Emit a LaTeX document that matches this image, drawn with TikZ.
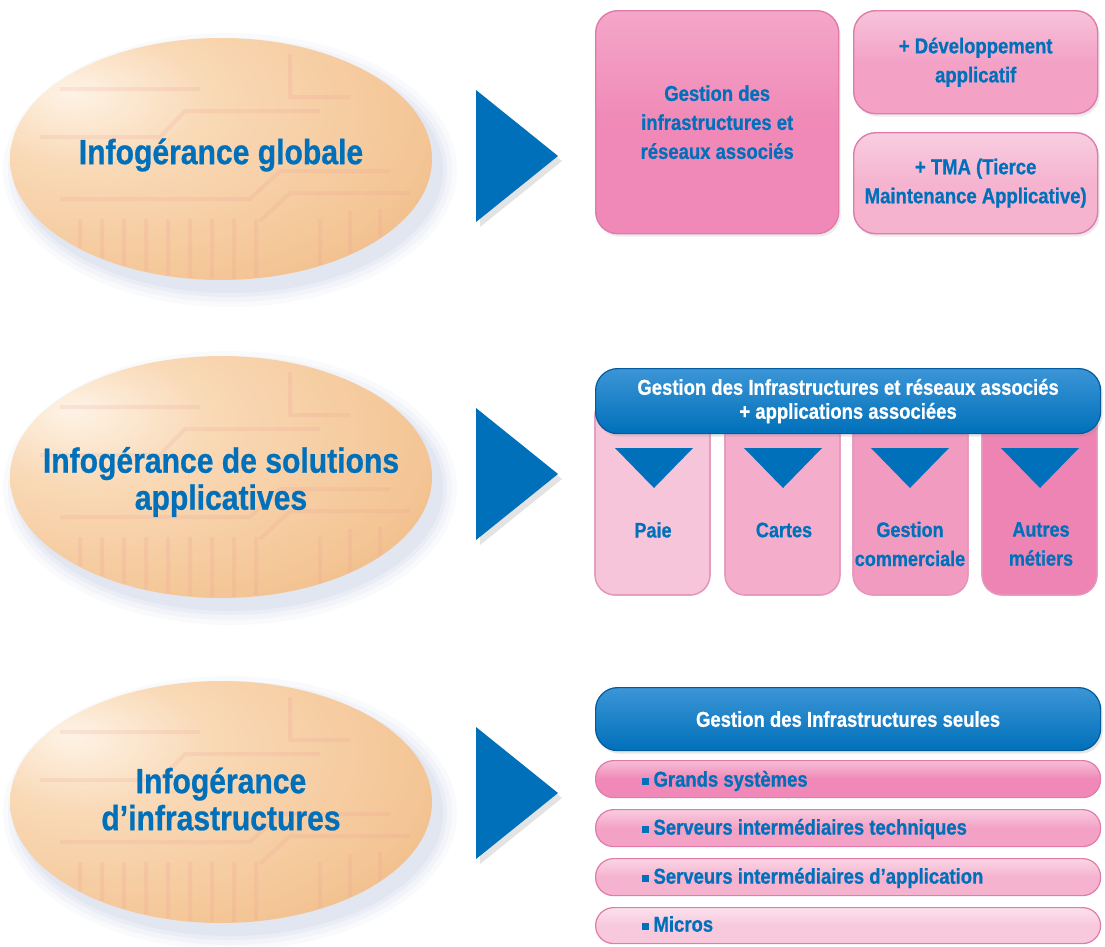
\documentclass[tikz,border=0pt]{standalone}
\usepackage{fontspec}
\setmainfont[FakeStretch=0.86,BoldFeatures={FakeBold=0.7}]{Liberation Sans}
\usetikzlibrary{shapes.geometric,shadows}
\definecolor{bl}{HTML}{0070BA}
\definecolor{bltop}{HTML}{3C95D6}
\definecolor{bledge}{HTML}{005C9E}
\definecolor{eggA}{HTML}{FEF3E6}
\definecolor{eggB}{HTML}{F9D9B6}
\definecolor{eggC}{HTML}{F4C595}
\definecolor{eggD}{HTML}{E8AE76}
\definecolor{haloc}{HTML}{A9B8D8}
\definecolor{pkedge}{HTML}{E07BAA}
\definecolor{pkA}{HTML}{F089B7}
\definecolor{pkB}{HTML}{F3A2C6}
\definecolor{pkC}{HTML}{F5B3D0}
\definecolor{pkD}{HTML}{F8C8DD}
\definecolor{colA}{HTML}{F7C5DA}
\definecolor{colB}{HTML}{F4AECB}
\definecolor{colC}{HTML}{F29BC1}
\definecolor{colD}{HTML}{EE84B4}
\definecolor{circ}{HTML}{EE9C96}
\pgfdeclareradialshading{egg}{\pgfpoint{-18bp}{14bp}}{color(0bp)=(eggA);color(14bp)=(eggB);color(36bp)=(eggC);color(50bp)=(eggD);color(100bp)=(eggD)}
\begin{document}
\begin{tikzpicture}[x=1pt,y=-1pt,
  egg/.style={ellipse, minimum width=422pt, minimum height=242pt, inner sep=0pt, shading=egg},
  eggtxt/.style={text=bl, font=\fontsize{35}{37}\selectfont\bfseries, align=center},
  pbox/.style={draw=pkedge, line width=1.4pt, rounded corners=22pt, anchor=north west, inner sep=0pt,
    text=bl, font=\fontsize{21.5}{29}\selectfont\bfseries, align=center},
  hdr/.style={draw=bledge, line width=1.2pt, rounded corners=22pt, anchor=north west, inner sep=0pt,
    top color=bltop, middle color=bl, bottom color=bl, text=white, align=center,
    drop shadow={opacity=0.2, shadow xshift=2pt, shadow yshift=-3pt}},
  col/.style={draw=pkedge!80, line width=1.2pt, rounded corners=20pt},
  coltxt/.style={text=bl, font=\fontsize{21}{29}\selectfont\bfseries, align=center},
  bar/.style={draw=pkedge, line width=1.2pt, rounded corners=18pt, anchor=north west, inner sep=0pt,
    minimum width=505pt, minimum height=37pt},
  bartxt/.style={text=bl, font=\fontsize{21.5}{24}\selectfont\bfseries, anchor=west},
  arr/.style={fill=bl, drop shadow={opacity=0.22, shadow xshift=4pt, shadow yshift=-5pt}},
  dtri/.style={fill=bl}
]
\useasboundingbox (0,0) rectangle (1105,946);
\fill[white] (0,0) rectangle (1105,946);

% ---------- ellipses ----------
\foreach \cy in {159,477,802}{
  \foreach \g/\o in {16/0.06,11/0.08,6/0.10,2/0.12}{
    \fill[haloc, opacity=\o] (230,\cy+11) ellipse [x radius=211pt+\g pt, y radius=121pt+\g pt];
  }
}
\node[egg] (e1) at (221,159) {};
\node[egg] (e2) at (221,477) {};
\node[egg] (e3) at (221,802) {};
% faint circuit traces
\foreach \cy in {159,477,802}{
  \begin{scope}
    \clip (221,\cy) ellipse [x radius=210pt, y radius=120pt];
    \draw[circ, opacity=0.18, line width=4pt]
      \foreach \xx in {80,102,124,146,168,190,212,234,256}{ (\xx,\cy+60) -- (\xx,\cy+130) }
      (60,\cy+40) -- (250,\cy+40) -- (280,\cy+12) -- (390,\cy+12)
      (260,\cy+62) -- (290,\cy+34) -- (410,\cy+34)
      (40,\cy-22) -- (160,\cy-22) -- (185,\cy-48) -- (320,\cy-48)
      (60,\cy-70) -- (200,\cy-70)
      (290,\cy-105) -- (290,\cy-62) -- (350,\cy-62)
      (320,\cy+60) -- (320,\cy+120) (350,\cy+52) -- (350,\cy+112) (380,\cy+50) -- (380,\cy+100);
  \end{scope}
}
\node[eggtxt] (t1) at (221,155) {Infogérance globale};
\node[eggtxt] (t2) at (221,482) {Infogérance de solutions\\applicatives};
\node[eggtxt] (t3) at (221,799) {Infogérance\\d’infrastructures};

% ---------- arrows ----------
\fill[arr] (476,90) -- (558,156) -- (476,222) -- cycle;
\fill[arr] (476,408) -- (558,474) -- (476,540) -- cycle;
\fill[arr] (476,727) -- (558,793) -- (476,859) -- cycle;

% ---------- row 1 ----------
\node[pbox, top color=pkA!75!white, bottom color=pkA, middle color=pkA, minimum width=243pt, minimum height=223pt,
  drop shadow={opacity=0.15, shadow xshift=2pt, shadow yshift=-3pt}]
  (b1) at (595,10) {Gestion des\\infrastructures et\\réseaux associés};
\node[pbox, top color=pkB!65!white, bottom color=pkB, middle color=pkB, minimum width=244pt, minimum height=103pt,
  drop shadow={opacity=0.15, shadow xshift=2pt, shadow yshift=-3pt}]
  (b2) at (853,10) {};
\node[coltxt, font=\fontsize{21.5}{29}\selectfont\bfseries] (b2t) at (b2.center) {+ Développement\\applicatif};
\node[pbox, top color=pkC!65!white, bottom color=pkC, middle color=pkC, minimum width=244pt, minimum height=101pt,
  drop shadow={opacity=0.15, shadow xshift=2pt, shadow yshift=-3pt}]
  (b3) at (853,132) {};
\node[coltxt, font=\fontsize{21.5}{29}\selectfont\bfseries] (b3t) at (b3.center) {+ TMA (Tierce\\Maintenance Applicative)};

% ---------- row 2 ----------
\fill[col, fill=colA] (595,395) rectangle (710,595);
\fill[col, fill=colB] (725,395) rectangle (840,595);
\fill[col, fill=colC] (853,395) rectangle (968,595);
\fill[col, fill=colD] (982,395) rectangle (1097,595);
\draw[col] (595,395) rectangle (710,595);
\draw[col] (725,395) rectangle (840,595);
\draw[col] (853,395) rectangle (968,595);
\draw[col] (982,395) rectangle (1097,595);
\node[hdr, minimum width=505pt, minimum height=65pt, font=\fontsize{21.5}{24}\selectfont\bfseries]
  (h2) at (595,368) {Gestion des Infrastructures et réseaux associés\\+ applications associées};
\fill[dtri] (615,448) -- (693,448) -- (654,488) -- cycle;
\fill[dtri] (744,448) -- (822,448) -- (783,488) -- cycle;
\fill[dtri] (871,448) -- (949,448) -- (910,488) -- cycle;
\fill[dtri] (1001,448) -- (1079,448) -- (1040,488) -- cycle;
\node[coltxt] (c1) at (653,530) {Paie};
\node[coltxt] (c2) at (784,530) {Cartes};
\node[coltxt] (c3) at (910,544) {Gestion\\commerciale};
\node[coltxt] (c4) at (1041,544) {Autres\\métiers};

% ---------- row 3 ----------
\node[hdr, minimum width=505pt, minimum height=63pt, font=\fontsize{21.5}{24}\selectfont\bfseries]
  (h3) at (595,687) {Gestion des Infrastructures seules};
\node[bar, top color=pkA!55!white, bottom color=pkA, middle color=pkA] (r1) at (595,760) {};
\node[bar, top color=pkB!55!white, bottom color=pkB, middle color=pkB] (r2) at (595,809) {};
\node[bar, top color=pkC!55!white, bottom color=pkC, middle color=pkC] (r3) at (595,858) {};
\node[bar, top color=pkD!55!white, bottom color=pkD, middle color=pkD, minimum height=36pt] (r4) at (595,907) {};
\newcommand{\blt}{\textcolor{bl}{\raisebox{1.5pt}{\rule{7pt}{7pt}}}\hspace{5pt}}
\node[bartxt] (r1t) at (638,781) {\blt Grands systèmes};
\node[bartxt] (r2t) at (638,829) {\blt Serveurs intermédiaires techniques};
\node[bartxt] (r3t) at (638,878) {\blt Serveurs intermédiaires d’application};
\node[bartxt] (r4t) at (638,924) {\blt Micros};
\end{tikzpicture}
\end{document}
